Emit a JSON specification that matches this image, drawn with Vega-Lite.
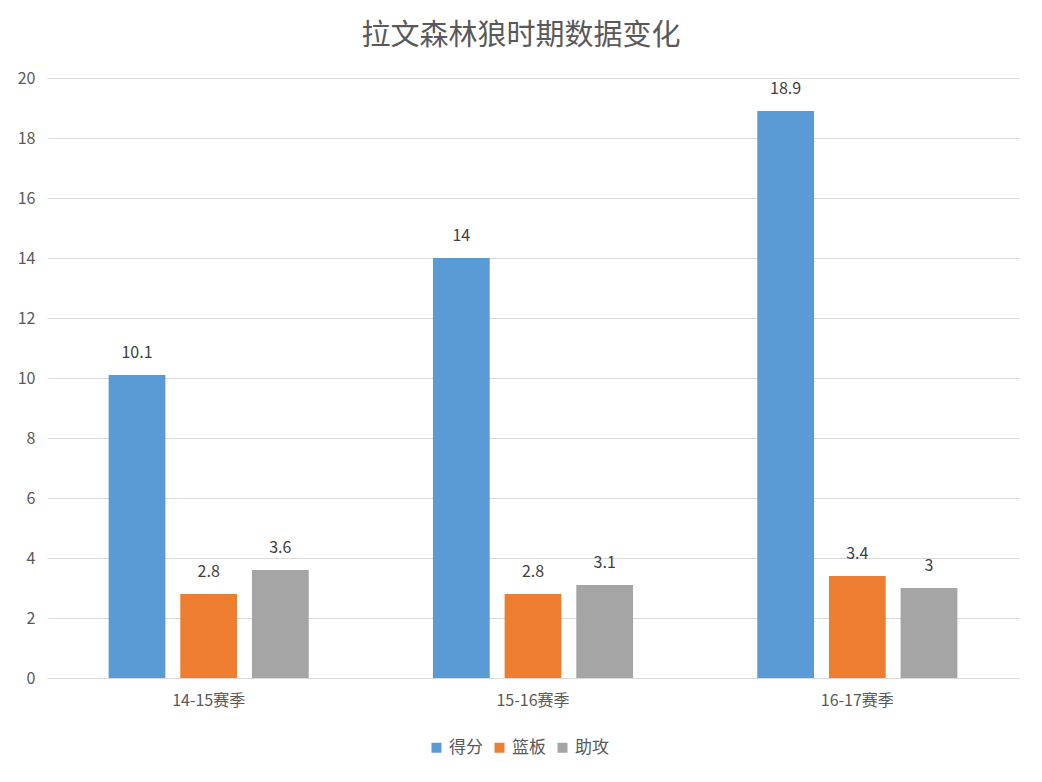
{
  "$schema": "https://vega.github.io/schema/vega-lite/v6.json",
  "width": 972,
  "height": 600,
  "autosize": {"type": "none"},
  "padding": {"left": 47, "top": 78, "right": 23, "bottom": 104},
  "background": "white",
  "title": {
    "text": "拉文森林狼时期数据变化",
    "font": "Noto Sans CJK SC",
    "fontSize": 29,
    "fontWeight": "normal",
    "color": "#595959",
    "offset": 19,
    "dx": -12,
    "anchor": "middle"
  },
  "data": {
    "values": [
      {"season": "14-15赛季", "stat": "得分", "value": 10.1},
      {"season": "14-15赛季", "stat": "篮板", "value": 2.8},
      {"season": "14-15赛季", "stat": "助攻", "value": 3.6},
      {"season": "15-16赛季", "stat": "得分", "value": 14},
      {"season": "15-16赛季", "stat": "篮板", "value": 2.8},
      {"season": "15-16赛季", "stat": "助攻", "value": 3.1},
      {"season": "16-17赛季", "stat": "得分", "value": 18.9},
      {"season": "16-17赛季", "stat": "篮板", "value": 3.4},
      {"season": "16-17赛季", "stat": "助攻", "value": 3}
    ]
  },
  "encoding": {
    "x": {
      "field": "season",
      "type": "nominal",
      "scale": {"paddingInner": 0.383, "paddingOuter": 0.19},
      "axis": {
        "title": null,
        "labelAngle": 0,
        "labelFont": "Noto Sans CJK SC",
        "labelFontSize": 16,
        "labelColor": "#595959",
        "labelPadding": 14,
        "ticks": false,
        "domainColor": "#d9d9d9",
        "domainWidth": 1
      }
    },
    "xOffset": {
      "field": "stat",
      "type": "nominal",
      "sort": ["得分", "篮板", "助攻"],
      "scale": {"paddingInner": 0.208, "paddingOuter": 0}
    },
    "y": {
      "field": "value",
      "type": "quantitative",
      "scale": {"domain": [0, 20], "nice": false},
      "axis": {
        "title": null,
        "values": [0, 2, 4, 6, 8, 10, 12, 14, 16, 18, 20],
        "labelOverlap": false,
        "labelFont": "Noto Sans CJK SC",
        "labelFontSize": 16,
        "labelColor": "#595959",
        "labelPadding": 12,
        "ticks": false,
        "domain": false,
        "gridColor": "#d9d9d9",
        "gridWidth": 1
      }
    }
  },
  "layer": [
    {
      "mark": {"type": "bar"},
      "encoding": {
        "color": {
          "field": "stat",
          "type": "nominal",
          "sort": ["得分", "篮板", "助攻"],
          "scale": {"domain": ["得分", "篮板", "助攻"], "range": ["#5b9bd5", "#ed7d31", "#a5a5a5"]},
          "legend": {
            "title": null,
            "orient": "none",
            "legendX": 381,
            "legendY": 661,
            "direction": "horizontal",
            "symbolType": "square",
            "symbolSize": 100,
            "symbolStrokeWidth": 0,
            "labelFont": "Noto Sans CJK SC",
            "labelFontSize": 17,
            "labelColor": "#595959",
            "columnPadding": 8
          }
        }
      }
    },
    {
      "mark": {
        "type": "text",
        "baseline": "bottom",
        "dy": -14,
        "font": "Noto Sans CJK SC",
        "fontSize": 16,
        "color": "#404040"
      },
      "encoding": {
        "text": {"field": "value", "type": "quantitative"}
      }
    }
  ],
  "config": {"view": {"stroke": null}}
}
